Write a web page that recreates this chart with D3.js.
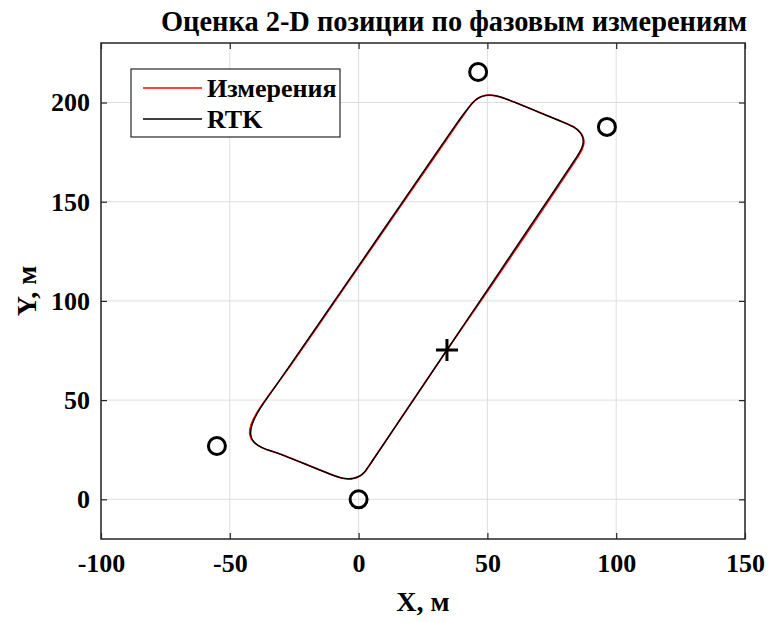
<!DOCTYPE html>
<html>
<head>
<meta charset="utf-8">
<script src="https://cdn.jsdelivr.net/npm/d3@7"></script>
<style>
body{margin:0;background:#fff;}
text{font-family:"Liberation Serif","Times New Roman",serif;font-weight:bold;fill:#000;}
</style>
</head>
<body>
<script>
// данные
var xTicks = [-100, -50, 0, 50, 100, 150];
var yTicks = [0, 50, 100, 150, 200];
var seriesNames = ["Измерения", "RTK"];
var seriesColors = ["#ff0000", "#000000"];

// траектория RTK
var rtkX = [34.3, 50, 65, 78, 84.4, 86.6, 87.5, 86.6, 83.8, 79, 70, 60, 55.5, 52, 49.5, 46.8, 44.2, 41.4, 38.3, 30, 15, 0, -15, -30, -36.1, -39.5, -41.6, -42.2, -40.8, -37.6, -33.6, -30, -20, -10, -7, -4.5, -2, 0.5, 2.4, 4.5, 15, 25, 34.3, 40];
var rtkY = [75.3, 105.6, 134.5, 159.6, 172, 176.6, 180.5, 184.4, 187.8, 190.3, 195.1, 200.5, 202.7, 203.8, 203.8, 202.7, 200, 195.3, 190, 174.3, 146, 117.7, 89.4, 61.1, 50, 43.3, 37.5, 32.3, 28.6, 25.9, 24.2, 22.7, 17.4, 12.1, 10.8, 10.2, 10.4, 11.6, 13.5, 17.8, 38, 57.3, 75.3, 86.3];

// фазовые измерения
var measX = [34.3, 50.5, 65.5, 78.5, 84.9, 87, 87.8, 86.8, 83.9, 79, 70, 60, 55.5, 52, 49.4, 46.6, 44, 41.7, 38.7, 30.4, 15.4, 0.3, -14.7, -29.8, -36.3, -39.8, -42, -42.6, -41, -37.6, -33.6, -30, -20, -10, -7, -4.5, -2, 0.5, 2.4, 4.5, 15, 25, 34.3];
var measY = [75.3, 105.6, 134.5, 159.6, 172, 176.6, 180.5, 184.4, 187.8, 190.3, 195.1, 200.5, 202.7, 203.8, 203.8, 202.7, 200, 195.3, 190, 174.3, 146, 117.7, 89.4, 61.1, 50, 43.3, 37.5, 32.3, 28.6, 25.9, 24.2, 22.7, 17.4, 12.1, 10.8, 10.2, 10.4, 11.6, 13.5, 17.8, 38, 57.3, 75.3];

// опорные точки (кружки) и старт (плюс)
var beaconX = [46.4, 96.4, -55, 0];
var beaconY = [215.4, 187.7, 26.9, 0];
var startX = [34.3];
var startY = [75.3];

var W = 772, H = 622;
var box = {left: 101, right: 745, top: 43, bottom: 539};
var svg = d3.select("body").append("svg").attr("width", W).attr("height", H);

var x = d3.scaleLinear().domain([-100, 150]).range([box.left, box.right]);
var y = d3.scaleLinear().domain([-20, 230]).range([box.bottom, box.top]);

// сетка
var grid = svg.append("g").attr("stroke", "#dedede").attr("stroke-width", 1);
xTicks.forEach(function (t) {
    grid.append("line").attr("x1", x(t)).attr("x2", x(t)).attr("y1", box.top).attr("y2", box.bottom);
});
yTicks.forEach(function (t) {
    grid.append("line").attr("y1", y(t)).attr("y2", y(t)).attr("x1", box.left).attr("x2", box.right);
});

// оси: засечки внутрь
var axB = svg.append("g").attr("transform", "translate(0," + box.bottom + ")")
    .call(d3.axisBottom(x).tickValues(xTicks).tickSize(-6).tickPadding(15).tickFormat(d3.format("d")));
var axT = svg.append("g").attr("transform", "translate(0," + box.top + ")")
    .call(d3.axisTop(x).tickValues(xTicks).tickSize(-6).tickFormat(""));
var axL = svg.append("g").attr("transform", "translate(" + box.left + ",0)")
    .call(d3.axisLeft(y).tickValues(yTicks).tickSize(-6).tickPadding(11).tickFormat(d3.format("d")));
var axR = svg.append("g").attr("transform", "translate(" + box.right + ",0)")
    .call(d3.axisRight(y).tickValues(yTicks).tickSize(-6).tickFormat(""));
[axB, axT, axL, axR].forEach(function (a) {
    a.select(".domain").remove();
    a.selectAll(".tick line").attr("stroke", "#262626").attr("stroke-width", 1.2);
    a.selectAll(".tick text").attr("font-size", 26).attr("font-family", null).attr("fill", "#262626");
});
axB.selectAll(".tick text").text(function (d) { return d < 0 ? "-" + Math.abs(d) : d; });

// траектории
var line = d3.line().curve(d3.curveBasis);
svg.append("path")
    .attr("d", line(measX.map(function (v, i) { return [x(v), y(measY[i])]; })))
    .attr("fill", "none").attr("stroke", seriesColors[0]).attr("stroke-width", 1.6);
svg.append("path")
    .attr("d", line(rtkX.map(function (v, i) { return [x(v), y(rtkY[i])]; })))
    .attr("fill", "none").attr("stroke", seriesColors[1]).attr("stroke-width", 1.4);

// маркеры
svg.selectAll(".beacon").data(beaconX).enter().append("circle")
    .attr("class", "beacon")
    .attr("cx", function (d) { return x(d); })
    .attr("cy", function (d, i) { return y(beaconY[i]); })
    .attr("r", 8.5).attr("fill", "none").attr("stroke", "#000").attr("stroke-width", 3);
svg.selectAll(".start").data(startX).enter().append("path")
    .attr("class", "start")
    .attr("d", function (d, i) {
        var cx = x(d), cy = y(startY[i]), s = 11;
        return "M" + (cx - s) + "," + cy + "H" + (cx + s) + "M" + cx + "," + (cy - s) + "V" + (cy + s);
    })
    .attr("stroke", "#000").attr("stroke-width", 3);

// рамка
svg.append("rect").attr("x", box.left).attr("y", box.top)
    .attr("width", box.right - box.left).attr("height", box.bottom - box.top)
    .attr("fill", "none").attr("stroke", "#262626").attr("stroke-width", 1.5);

// легенда
var lg = svg.append("g").attr("transform", "translate(131,69)");
lg.append("rect").attr("width", 209).attr("height", 68)
    .attr("fill", "#fff").attr("stroke", "#262626").attr("stroke-width", 1.2);
seriesNames.forEach(function (n, i) {
    var ly = 19 + i * 31;
    lg.append("line").attr("x1", 12).attr("x2", 71).attr("y1", ly).attr("y2", ly)
        .attr("stroke", seriesColors[i]).attr("stroke-width", 1.6);
    lg.append("text").attr("x", 76).attr("y", ly + 9).attr("font-size", 26).text(n);
});

// подписи
svg.append("text").attr("x", 454).attr("y", 31)
    .attr("text-anchor", "middle").attr("font-size", 29)
    .attr("textLength", 586).attr("lengthAdjust", "spacingAndGlyphs")
    .text("Оценка 2-D позиции по фазовым измерениям");
svg.append("text").attr("x", (box.left + box.right) / 2).attr("y", 611)
    .attr("text-anchor", "middle").attr("font-size", 28).attr("fill", "#262626").text("X, м");
svg.append("text").attr("transform", "translate(36," + (box.top + box.bottom) / 2 + ") rotate(-90)")
    .attr("text-anchor", "middle").attr("font-size", 28).attr("fill", "#262626").text("Y, м");
</script>
</body>
</html>
